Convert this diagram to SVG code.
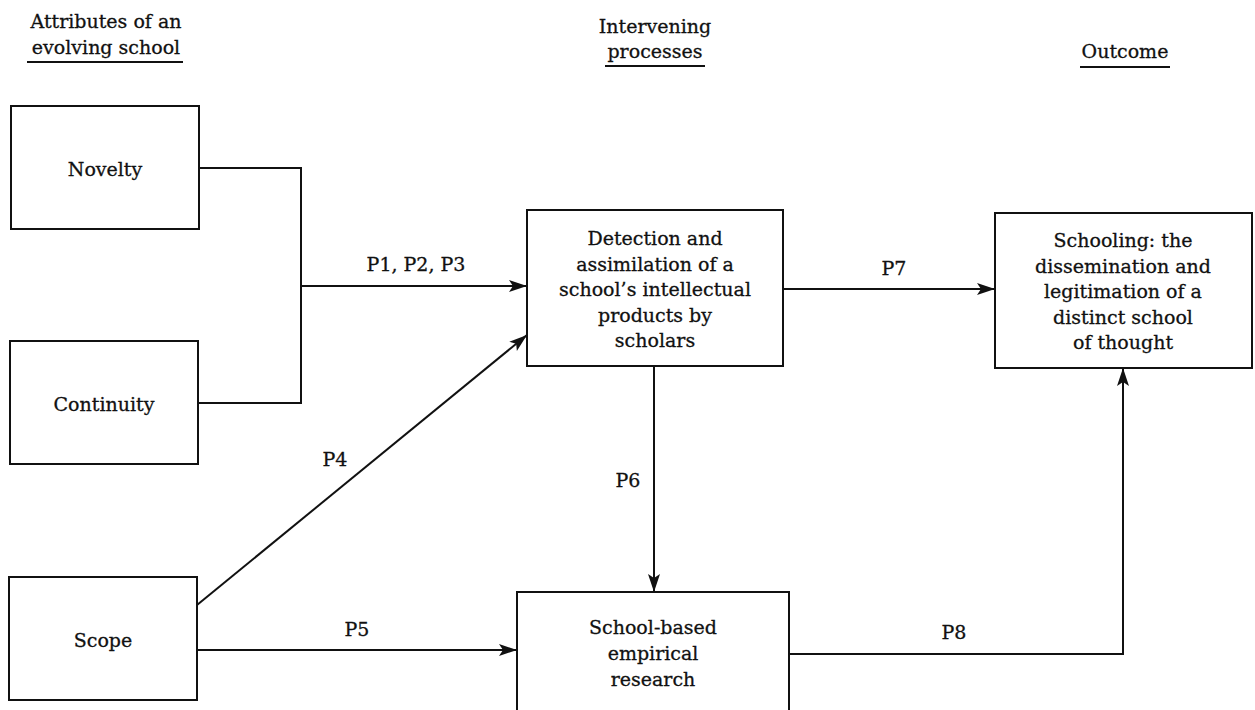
<svg xmlns="http://www.w3.org/2000/svg" width="1255" height="710" viewBox="0 0 1255 710">
<style>
text{font-family:"DejaVu Serif","Liberation Serif",serif;font-size:19px;fill:#111;stroke:#111;stroke-width:0.3;text-anchor:middle}
.box{fill:#fff;stroke:#111;stroke-width:2}
.ln{fill:none;stroke:#111;stroke-width:2}
.ul{stroke:#111;stroke-width:2}
</style>
<defs>
<marker id="arr" markerUnits="userSpaceOnUse" markerWidth="20" markerHeight="14" refX="18" refY="7" orient="auto">
<path d="M0,1 L18,7 L0,13 L4,7 z" fill="#111"/>
</marker>
</defs>
<g id="headers">
<text x="106" y="28">Attributes of an</text>
<text x="106" y="54">evolving school</text>
<line class="ul" x1="27" y1="62" x2="183" y2="62"/>
<text x="655" y="33">Intervening</text>
<text x="655" y="58">processes</text>
<line class="ul" x1="605" y1="66" x2="705" y2="66"/>
<text x="1125" y="58">Outcome</text>
<line class="ul" x1="1080" y1="67" x2="1170" y2="67"/>
</g>
<g id="connectors">
<polyline class="ln" points="199,168 301,168 301,403 198,403"/>
<line class="ln" x1="301" y1="286" x2="527" y2="286" marker-end="url(#arr)"/>
<line class="ln" x1="197" y1="605" x2="527" y2="335" marker-end="url(#arr)"/>
<line class="ln" x1="197" y1="650" x2="517" y2="650" marker-end="url(#arr)"/>
<line class="ln" x1="654" y1="366" x2="654" y2="592" marker-end="url(#arr)"/>
<line class="ln" x1="783" y1="289" x2="995" y2="289" marker-end="url(#arr)"/>
<polyline class="ln" points="789,654 1123,654 1123,368" marker-end="url(#arr)"/>
<text x="416" y="271">P1, P2, P3</text>
<text x="335" y="466">P4</text>
<text x="357" y="636">P5</text>
<text x="628" y="487">P6</text>
<text x="894" y="275">P7</text>
<text x="954" y="639">P8</text>
</g>
<g id="novelty">
<rect class="box" x="11" y="106" width="188" height="123"/>
<text x="105" y="176">Novelty</text>
</g>
<g id="continuity">
<rect class="box" x="10" y="341" width="188" height="123"/>
<text x="104" y="411">Continuity</text>
</g>
<g id="scope">
<rect class="box" x="9" y="577" width="188" height="123"/>
<text x="103" y="647">Scope</text>
</g>
<g id="detection">
<rect class="box" x="527" y="210" width="256" height="156"/>
<text x="655" y="245">Detection and</text>
<text x="655" y="270.5">assimilation of a</text>
<text x="655" y="296">school’s intellectual</text>
<text x="655" y="321.5">products by</text>
<text x="655" y="347">scholars</text>
</g>
<g id="schooling">
<rect class="box" x="995" y="213" width="257" height="155"/>
<text x="1123" y="247">Schooling: the</text>
<text x="1123" y="272.5">dissemination and</text>
<text x="1123" y="298">legitimation of a</text>
<text x="1123" y="323.5">distinct school</text>
<text x="1123" y="349">of thought</text>
</g>
<g id="research">
<rect class="box" x="517" y="592" width="272" height="125"/>
<text x="653" y="634">School-based</text>
<text x="653" y="660">empirical</text>
<text x="653" y="686">research</text>
</g>
</svg>
